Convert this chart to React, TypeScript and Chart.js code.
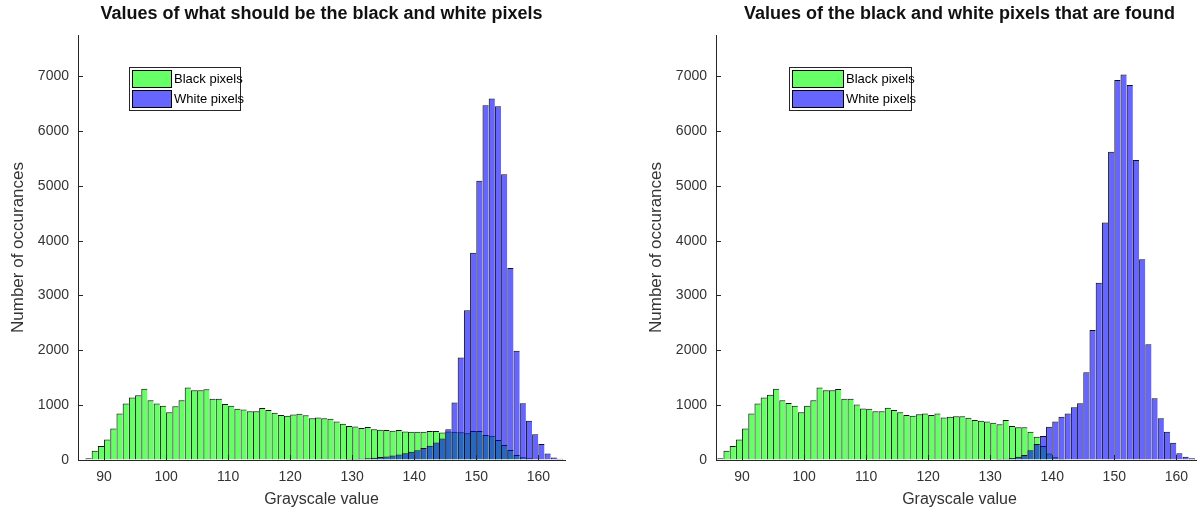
import React, { useEffect, useRef } from "react";
import { Chart, registerables } from "chart.js";

Chart.register(...registerables);

// ---------- data ----------
const binCenters = [
  86.5, 87.5, 88.5, 89.5, 90.5, 91.5, 92.5, 93.5, 94.5, 95.5,
  96.5, 97.5, 98.5, 99.5, 100.5, 101.5, 102.5, 103.5, 104.5, 105.5,
  106.5, 107.5, 108.5, 109.5, 110.5, 111.5, 112.5, 113.5, 114.5, 115.5,
  116.5, 117.5, 118.5, 119.5, 120.5, 121.5, 122.5, 123.5, 124.5, 125.5,
  126.5, 127.5, 128.5, 129.5, 130.5, 131.5, 132.5, 133.5, 134.5, 135.5,
  136.5, 137.5, 138.5, 139.5, 140.5, 141.5, 142.5, 143.5, 144.5, 145.5,
  146.5, 147.5, 148.5, 149.5, 150.5, 151.5, 152.5, 153.5, 154.5, 155.5,
  156.5, 157.5, 158.5, 159.5, 160.5, 161.5, 162.5, 163.5,
];

const leftBlackPixels = [
  null, 30, 170, 255, 375, 575, 850, 1030, 1140, 1180,
  1300, 1090, 1030, 990, 870, 980, 1090, 1320, 1270, 1270,
  1290, 1115, 1115, 1020, 990, 935, 920, 890, 890, 950,
  910, 860, 820, 805, 830, 845, 815, 760, 775, 760,
  750, 700, 660, 620, 610, 585, 600, 560, 550, 547,
  535, 545, 520, 516, 516, 516, 530, 528, 500, 520,
  516, 504, 486, 528, 528, 455, 443, 365, 273, 182,
  91, 49, 30, 15, 5, null, null, null,
];

const leftWhitePixels = [
  null, null, null, null, null, null, null, null, null, null,
  null, null, null, null, null, null, null, null, null, null,
  null, null, null, null, null, null, null, null, null, null,
  null, null, null, null, null, null, null, null, 5, 10,
  10, 15, 15, 20, 20, 25, 30, 40, 55, 65,
  80, 100, 125, 150, 180, 220, 260, 320, 390, 560,
  1050, 1870, 2730, 3780, 5090, 6470, 6590, 6450, 5210, 3500,
  1990, 1035, 715, 470, 290, 120, 45, 25,
];

const rightBlackPixels = [
  30, 170, 255, 375, 575, 850, 1030, 1140, 1190, 1300,
  1090, 1040, 990, 870, 990, 1090, 1320, 1270, 1270, 1295,
  1115, 1115, 1010, 940, 935, 890, 890, 955, 910, 870,
  820, 805, 835, 850, 820, 850, 775, 790, 800, 800,
  770, 730, 715, 700, 680, 650, 730, 620, 595, 595,
  515, 425, 255, 120, 50, 20, null, null, null, null,
  null, null, null, null, null, null, null, null, null, null,
  null, null, null, null, null, null, null, null,
];

const rightWhitePixels = [
  null, null, null, null, null, null, null, null, null, null,
  null, null, null, null, null, null, null, null, null, null,
  null, null, null, null, null, null, null, null, null, null,
  null, null, null, null, null, null, null, null, null, null,
  5, 10, 10, 15, 15, 20, 25, 35, 60, 90,
  180, 290, 437, 608, 700, 790, 850, 960, 1033, 1600,
  2370, 3230, 4330, 5620, 6930, 7030, 6840, 5470, 3660, 2110,
  1124, 760, 516, 316, 122, 60, 30, null,
];

const xTickValues = [90, 100, 110, 120, 130, 140, 150, 160];
const yTickValues = [0, 1000, 2000, 3000, 4000, 5000, 6000, 7000];
const seriesLabels = ["Black pixels", "White pixels"];
const leftTitle = "Values of what should be the black and white pixels";
const rightTitle = "Values of the black and white pixels that are found";
const xAxisTitle = "Grayscale value";
const yAxisTitle = "Number of occurances";

// ---------- style ----------
const FONT = '"Liberation Sans", Arial, Helvetica, sans-serif';
const GREEN = "rgba(0, 255, 0, 0.6)";
const BLUE = "rgba(0, 0, 255, 0.6)";
const EDGE = "#111111";
const AXIS = "#262626";
const TEXT = "#333333";

const matlabPlugin = {
  id: "matlabDecor",
  afterDatasetsDraw(chart: any) {
    const { ctx, chartArea, scales } = chart;
    ctx.save();
    ctx.strokeStyle = AXIS;
    ctx.lineWidth = 1;
    ctx.beginPath();
    yTickValues.forEach((v) => {
      const y = Math.round(scales.y.getPixelForValue(v)) + 0.5;
      ctx.moveTo(chartArea.left, y);
      ctx.lineTo(chartArea.left + 5, y);
    });
    xTickValues.forEach((v) => {
      const x = Math.round(scales.x.getPixelForValue(v)) + 0.5;
      ctx.moveTo(x, chartArea.bottom);
      ctx.lineTo(x, chartArea.bottom - 5);
    });
    ctx.stroke();
    ctx.restore();
  },
  afterDraw(chart: any, _args: any, opts: any) {
    const { ctx, chartArea } = chart;
    ctx.save();
    // title
    ctx.fillStyle = "#111";
    ctx.font = `bold 18px ${FONT}`;
    ctx.textAlign = "center";
    ctx.textBaseline = "middle";
    ctx.fillText(opts.title, (chartArea.left + chartArea.right) / 2, 14);
    // legend
    const x0 = Math.round(chartArea.left + opts.legendX);
    const y0 = 67;
    const w = opts.legendW;
    const h = 43;
    ctx.fillStyle = "#fff";
    ctx.fillRect(x0, y0, w, h);
    ctx.strokeStyle = AXIS;
    ctx.lineWidth = 1;
    ctx.strokeRect(x0 + 0.5, y0 + 0.5, w, h);
    chart.data.datasets.forEach((ds: any, i: number) => {
      const sy = y0 + 3 + i * 20;
      ctx.fillStyle = ds.backgroundColor;
      ctx.fillRect(x0 + 3, sy, opts.swatchW, 18);
      ctx.strokeStyle = "#000";
      ctx.strokeRect(x0 + 3.5, sy + 0.5, opts.swatchW - 1, 17);
      ctx.fillStyle = "#000";
      ctx.font = `13px ${FONT}`;
      ctx.textAlign = "left";
      ctx.textBaseline = "middle";
      ctx.fillText(ds.label, x0 + 5 + opts.swatchW, sy + 9.5);
    });
    ctx.restore();
  },
};

function makeConfig(black: (number | null)[], white: (number | null)[], title: string, legendX: number, legendW: number, swatchW: number): any {
  const toPoints = (arr: (number | null)[]) =>
    binCenters.map((x, i) => ({ x, y: arr[i] }));
  const edgeWidth = (arr: (number | null)[]) => (ctx: any) => {
    const i = ctx.dataIndex;
    const last = i === arr.length - 1 || arr[i + 1] == null;
    return { top: 1, left: 1, right: last ? 1 : 0, bottom: 0 };
  };
  return {
    type: "bar",
    data: {
      datasets: [
        {
          label: seriesLabels[0],
          data: toPoints(black),
          backgroundColor: GREEN,
          borderColor: EDGE,
          borderWidth: edgeWidth(black),
          order: 1,
        },
        {
          label: seriesLabels[1],
          data: toPoints(white),
          backgroundColor: BLUE,
          borderColor: EDGE,
          borderWidth: edgeWidth(white),
          order: 0,
        },
      ],
    },
    options: {
      responsive: false,
      animation: false,
      devicePixelRatio: 1,
      layout: { padding: { left: 0, right: 35, top: 35, bottom: 0 } },
      datasets: {
        bar: {
          barPercentage: 1,
          categoryPercentage: 1,
          grouped: false,
          inflateAmount: 0,
          borderSkipped: false,
        },
      },
      plugins: {
        legend: { display: false },
        title: { display: false },
        tooltip: { enabled: false },
        matlabDecor: { title, legendX, legendW, swatchW },
      },
      scales: {
        x: {
          type: "linear",
          offset: false,
          min: 85.8,
          max: 164.3,
          afterBuildTicks: (s: any) => {
            s.ticks = xTickValues.map((value) => ({ value }));
          },
          afterFit: (s: any) => {
            s.height = 52;
          },
          ticks: {
            font: { size: 14, family: FONT },
            color: TEXT,
            padding: 9,
            maxRotation: 0,
            autoSkip: false,
            callback: (v: any) => String(v),
          },
          grid: { display: true, offset: false, drawOnChartArea: false, drawTicks: false },
          border: { display: true, color: AXIS, width: 1 },
          title: {
            display: true,
            text: xAxisTitle,
            font: { size: 16, family: FONT },
            color: TEXT,
            padding: { top: 0, bottom: 3 },
          },
        },
        y: {
          type: "linear",
          min: 0,
          max: 7750,
          afterBuildTicks: (s: any) => {
            s.ticks = yTickValues.map((value) => ({ value }));
          },
          afterFit: (s: any) => {
            s.width = 78;
          },
          ticks: {
            font: { size: 14, family: FONT },
            color: TEXT,
            padding: 9,
            autoSkip: false,
            callback: (v: any) => String(v),
          },
          grid: { display: true, drawOnChartArea: false, drawTicks: false },
          border: { display: true, color: AXIS, width: 1 },
          title: {
            display: true,
            text: yAxisTitle,
            font: { size: 17, family: FONT },
            color: TEXT,
            padding: { top: 8, bottom: 0 },
          },
        },
      },
    },
    plugins: [matlabPlugin],
  };
}

function HistChart(props: { black: (number | null)[]; white: (number | null)[]; title: string; left: number; legendX: number; legendW: number; swatchW: number }) {
  const ref = useRef<HTMLCanvasElement | null>(null);
  useEffect(() => {
    if (!ref.current) return;
    const chart = new Chart(
      ref.current,
      makeConfig(props.black, props.white, props.title, props.legendX, props.legendW, props.swatchW)
    );
    return () => chart.destroy();
  }, []);
  return (
    <canvas
      ref={ref}
      width={600}
      height={512}
      style={{ position: "absolute", left: props.left, top: 0, width: 600, height: 512 }}
    />
  );
}

export default function App() {
  return (
    <div
      style={{
        position: "fixed",
        left: 0,
        top: 0,
        width: 1197,
        height: 512,
        overflow: "hidden",
        background: "#fff",
      }}
    >
      <HistChart black={leftBlackPixels} white={leftWhitePixels} title={leftTitle} left={0} legendX={51} legendW={111} swatchW={40} />
      <HistChart black={rightBlackPixels} white={rightWhitePixels} title={rightTitle} left={638} legendX={73} legendW={122} swatchW={52} />
    </div>
  );
}
